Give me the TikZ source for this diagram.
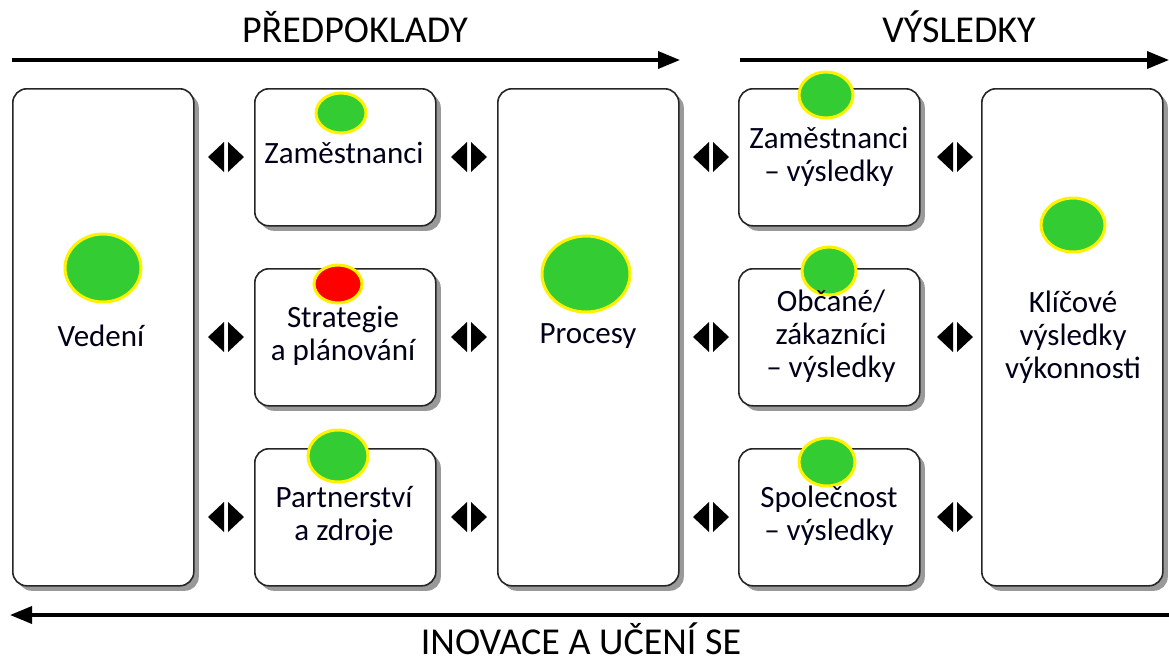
\documentclass[tikz,border=0pt]{standalone}
\usepackage{fontspec}
\setmainfont{Carlito}
\usetikzlibrary{arrows.meta,shadows,calc}
\definecolor{lampgreen}{RGB}{51,204,51}
\tikzset{
  box/.style={draw=black!85, line width=1.6pt, fill=white, rounded corners=14pt,
    minimum width=181pt, anchor=north west, inner sep=0pt,
    drop shadow={shadow xshift=5pt, shadow yshift=-5pt, fill=black!40, opacity=1}},
  tall/.style={box, minimum height=497pt},
  small/.style={box, minimum height=137pt},
  lbl/.style={font=\fontsize{31}{33}\selectfont, align=center, text=black!90!blue, inner sep=0pt},
  lamp/.style={fill=lampgreen, draw=yellow, line width=3pt},
  redlamp/.style={fill=red, draw=yellow, line width=3pt},
  head/.style={font=\fontsize{38}{40}\selectfont, anchor=base, inner sep=0pt},
  bigarrow/.style={line width=3.5pt, -{Triangle[length=22pt,width=17pt]}},
  tri/.style={fill=black},
}
\newcommand\dbl[1]{%
  \fill[tri] ($(#1)+(-2,-15)$) -- ($(#1)+(-2,15)$) -- ($(#1)+(-18,0)$) -- cycle;
  \fill[tri] ($(#1)+(2,-15)$) -- ($(#1)+(2,15)$) -- ($(#1)+(18,0)$) -- cycle;}
\begin{document}
\begin{tikzpicture}[x=1pt,y=-1pt]
\useasboundingbox (0,0) rectangle (1169,662);
% boxes
\node[tall]  (ved) at (12,88) {};
\node[small] (zam) at (254,88) {};
\node[small] (str) at (254,268) {};
\node[small] (par) at (254,448) {};
\node[tall]  (pro) at (497,88) {};
\node[small] (zv)  at (738,88) {};
\node[small] (obc) at (738,268) {};
\node[small] (spo) at (738,448) {};
\node[tall]  (kli) at (981,88) {};
% lamps
\filldraw[lamp] (341,113) ellipse [x radius=25, y radius=20];
\filldraw[lamp] (103,268) ellipse [x radius=38, y radius=34];
\filldraw[redlamp] (338,284) ellipse [x radius=24, y radius=19];
\filldraw[lamp] (338,456) ellipse [x radius=30, y radius=26];
\filldraw[lamp] (586,274) ellipse [x radius=44, y radius=38];
\filldraw[lamp] (826,95) ellipse [x radius=27, y radius=23];
\filldraw[lamp] (829,271) ellipse [x radius=27, y radius=24];
\filldraw[lamp] (827,462) ellipse [x radius=28, y radius=24];
\filldraw[lamp] (1073,225) ellipse [x radius=32, y radius=27];
% labels
\node[lbl] (tved) at (101,336) {Vedení};
\node[lbl] (tzam) at (344,153) {Zaměstnanci};
\node[lbl] (tstr) at (343,336) {Strategie\\a plánování};
\node[lbl] (tpar) at (344,516) {Partnerství\\a zdroje};
\node[lbl] (tpro) at (588,336) {Procesy};
\node[lbl] (tzv)  at (829,157) {Zaměstnanci\\– výsledky};
\node[lbl] (tobc) at (831,336) {Občané/\\zákazníci\\– výsledky};
\node[lbl] (tspo) at (829,516) {Společnost\\– výsledky};
\node[lbl] (tkli) at (1073,337) {Klíčové\\výsledky\\výkonnosti};
% double markers
\foreach \y in {157,337,517}{
  \dbl{226,\y} \dbl{469,\y} \dbl{711,\y} \dbl{955,\y}
}
% arrows and headings
\coordinate (a1) at (12,60); \coordinate (a2) at (680,60);
\coordinate (b1) at (740,60); \coordinate (b2) at (1169,60);
\coordinate (c1) at (1169,615); \coordinate (c2) at (10,615);
\draw[bigarrow] (a1) -- (a2);
\draw[bigarrow] (b1) -- (b2);
\draw[bigarrow] (c1) -- (c2);
\node[head] (hp) at (355,42) {PŘEDPOKLADY};
\node[head] (hv) at (959,42) {VÝSLEDKY};
\node[head] (hi) at (581,654) {INOVACE A UČENÍ SE};
\end{tikzpicture}
\end{document}
